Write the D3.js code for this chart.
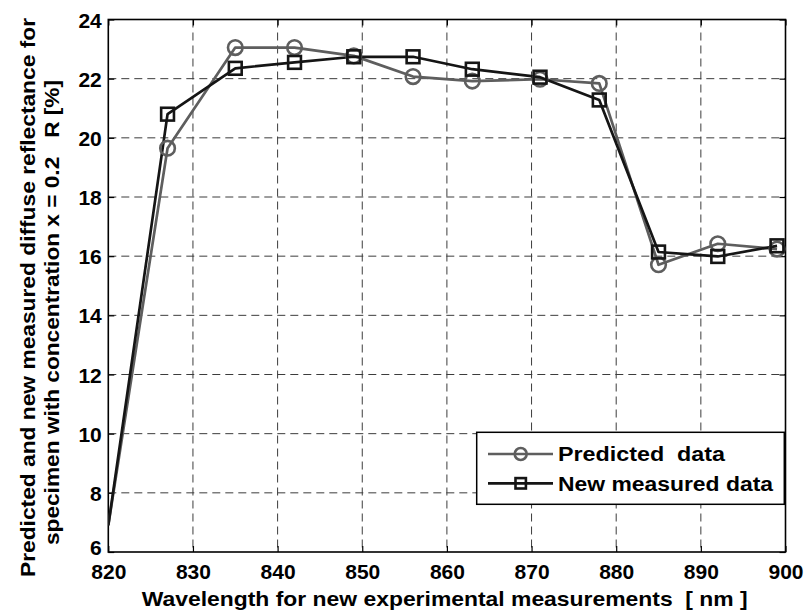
<!DOCTYPE html>
<html>
<head>
<meta charset="utf-8">
<script src="https://cdn.jsdelivr.net/npm/d3@7"></script>
<style>
  html, body { margin: 0; padding: 0; background: #fff; }
  svg { display: block; }
  text { font-family: "Liberation Sans", Arial, Helvetica, sans-serif; font-weight: 700; fill: #000; white-space: pre; }
</style>
</head>
<body>
<svg id="chart" width="808" height="616"></svg>
<script>
// Wavelengths of the experimental measurements [nm]
const wavelength = [820, 827, 835, 842, 849, 856, 863, 871, 878, 885, 892, 899];
// Predicted diffuse reflectance R [%]
const predicted = [6.9, 19.65, 23.05, 23.05, 22.77, 22.07, 21.92, 21.98, 21.84, 15.71, 16.42, 16.24];
// New measured diffuse reflectance R [%]
const measured = [6.9, 20.8, 22.35, 22.55, 22.74, 22.74, 22.32, 22.05, 21.28, 16.14, 15.99, 16.35];

const xTicks = [820, 830, 840, 850, 860, 870, 880, 890, 900];
const yTicks = [6, 8, 10, 12, 14, 16, 18, 20, 22, 24];

const seriesNames = ["Predicted  data", "New measured data"];

const svg = d3.select("#chart");
const W = 808, H = 616;
const plot = { left: 108.3, right: 785.5, top: 19.5, bottom: 552 };

const x = d3.scaleLinear().domain([820, 900]).range([plot.left, plot.right]);
const y = d3.scaleLinear().domain([6, 24]).range([plot.bottom, plot.top]);

svg.append("rect").attr("width", W).attr("height", H).attr("fill", "#fff");

svg.append("defs").append("clipPath").attr("id", "plotClip")
  .append("rect")
  .attr("x", plot.left).attr("y", plot.top)
  .attr("width", plot.right - plot.left).attr("height", plot.bottom - plot.top);

// Dashed grid
const grid = svg.append("g").attr("stroke", "#3c3c3c").attr("stroke-width", 1)
  .attr("stroke-dasharray", "8,5").attr("fill", "none");
grid.selectAll("line.v").data(xTicks.slice(1, -1)).join("line")
  .attr("x1", d => x(d)).attr("x2", d => x(d))
  .attr("y1", plot.top).attr("y2", plot.bottom);
grid.selectAll("line.h").data(yTicks.slice(1, -1)).join("line")
  .attr("x1", plot.left).attr("x2", plot.right)
  .attr("y1", d => y(d)).attr("y2", d => y(d));

// Axes with inward ticks, labels on bottom and left
const tickLen = 6;
const xAxis = d3.axisBottom(x).tickValues(xTicks).tickSizeInner(-tickLen).tickSizeOuter(0);
const yAxis = d3.axisLeft(y).tickValues(yTicks).tickSizeInner(-tickLen).tickSizeOuter(0);
const xTop = d3.axisTop(x).tickValues(xTicks).tickSizeInner(-tickLen).tickSizeOuter(0).tickFormat("");
const yRight = d3.axisRight(y).tickValues(yTicks).tickSizeInner(-tickLen).tickSizeOuter(0).tickFormat("");

function styleAxis(g) {
  g.attr("font-family", null).attr("font-size", null);
  g.select(".domain").remove();
  g.selectAll(".tick line").attr("stroke", "#000").attr("stroke-width", 1.2);
  g.selectAll(".tick text")
    .attr("font-size", 21).attr("font-weight", 700).attr("fill", "#000");
}

svg.append("g").attr("transform", `translate(0,${plot.bottom})`).call(xAxis).call(styleAxis)
  .selectAll(".tick text").attr("y", 12).attr("dy", "0.71em");
svg.append("g").attr("transform", `translate(${plot.left},0)`).call(yAxis).call(styleAxis)
  .selectAll(".tick text").attr("x", -6.5).attr("dy", d => d === 6 ? "0.1em" : "0.36em");
svg.append("g").attr("transform", `translate(0,${plot.top})`).call(xTop).call(styleAxis);
svg.append("g").attr("transform", `translate(${plot.right},0)`).call(yRight).call(styleAxis);

// Axes box
svg.append("rect")
  .attr("x", plot.left).attr("y", plot.top)
  .attr("width", plot.right - plot.left).attr("height", plot.bottom - plot.top)
  .attr("fill", "none").attr("stroke", "#000").attr("stroke-width", 1.6);

// Series
const series = [
  { name: seriesNames[0], values: predicted, color: "#5e5e5e", marker: "circle" },
  { name: seriesNames[1], values: measured, color: "#151515", marker: "square" }
];

const line = d3.line().x(d => x(d.x)).y(d => y(d.y));
const plotG = svg.append("g").attr("clip-path", "url(#plotClip)");

function drawMarker(g, type, color, size) {
  if (type === "circle") {
    g.append("circle").attr("r", size).attr("fill", "none")
      .attr("stroke", color).attr("stroke-width", 2.6);
  } else {
    g.append("rect").attr("x", -size).attr("y", -size)
      .attr("width", size * 2).attr("height", size * 2)
      .attr("fill", "none").attr("stroke", color).attr("stroke-width", 2.6);
  }
}

series.forEach(s => {
  const pts = wavelength.map((w, i) => ({ x: w, y: s.values[i] }));
  plotG.append("path").datum(pts)
    .attr("d", line).attr("fill", "none")
    .attr("stroke", s.color).attr("stroke-width", 2.7).attr("stroke-linejoin", "round");
  // markers only for points lying inside the axes
  pts.filter(p => p.x > x.domain()[0]).forEach(p => {
    const g = svg.append("g").attr("transform", `translate(${x(p.x)},${y(p.y)})`);
    drawMarker(g, s.marker, s.color, s.marker === "circle" ? 7.3 : 6.4);
  });
});

// Legend
const leg = { x0: 476.7, x1: 784.3, y0: 432.3, y1: 504.3 };
svg.append("rect")
  .attr("x", leg.x0).attr("y", leg.y0)
  .attr("width", leg.x1 - leg.x0).attr("height", leg.y1 - leg.y0)
  .attr("fill", "#fff").attr("stroke", "#000").attr("stroke-width", 1.5);

const legendRows = [454, 483.3];
const legendTextLen = [167, 215];
series.forEach((s, i) => {
  const cy = legendRows[i];
  svg.append("line").attr("x1", 488).attr("x2", 553).attr("y1", cy).attr("y2", cy)
    .attr("stroke", s.color).attr("stroke-width", 2.7);
  const g = svg.append("g").attr("transform", `translate(520.7,${cy})`);
  drawMarker(g, s.marker, s.color, s.marker === "circle" ? 6 : 5.2);
  svg.append("text").attr("x", 558).attr("y", cy + 7.2)
    .attr("font-size", 20)
    .attr("textLength", legendTextLen[i]).attr("lengthAdjust", "spacingAndGlyphs")
    .text(s.name);
});

// Axis titles
svg.append("text").attr("x", 141.7).attr("y", 606)
  .attr("font-size", 21).attr("textLength", 606).attr("lengthAdjust", "spacingAndGlyphs")
  .text("Wavelength for new experimental measurements  [ nm ]");

svg.append("text")
  .attr("transform", "translate(35,577) rotate(-90)")
  .attr("font-size", 21).attr("textLength", 559).attr("lengthAdjust", "spacingAndGlyphs")
  .text("Predicted and new measured diffuse reflectance for");
svg.append("text")
  .attr("transform", "translate(58.5,545) rotate(-90)")
  .attr("font-size", 21).attr("textLength", 465).attr("lengthAdjust", "spacingAndGlyphs")
  .text("specimen with concentration x = 0.2   R [%]");
</script>
</body>
</html>
